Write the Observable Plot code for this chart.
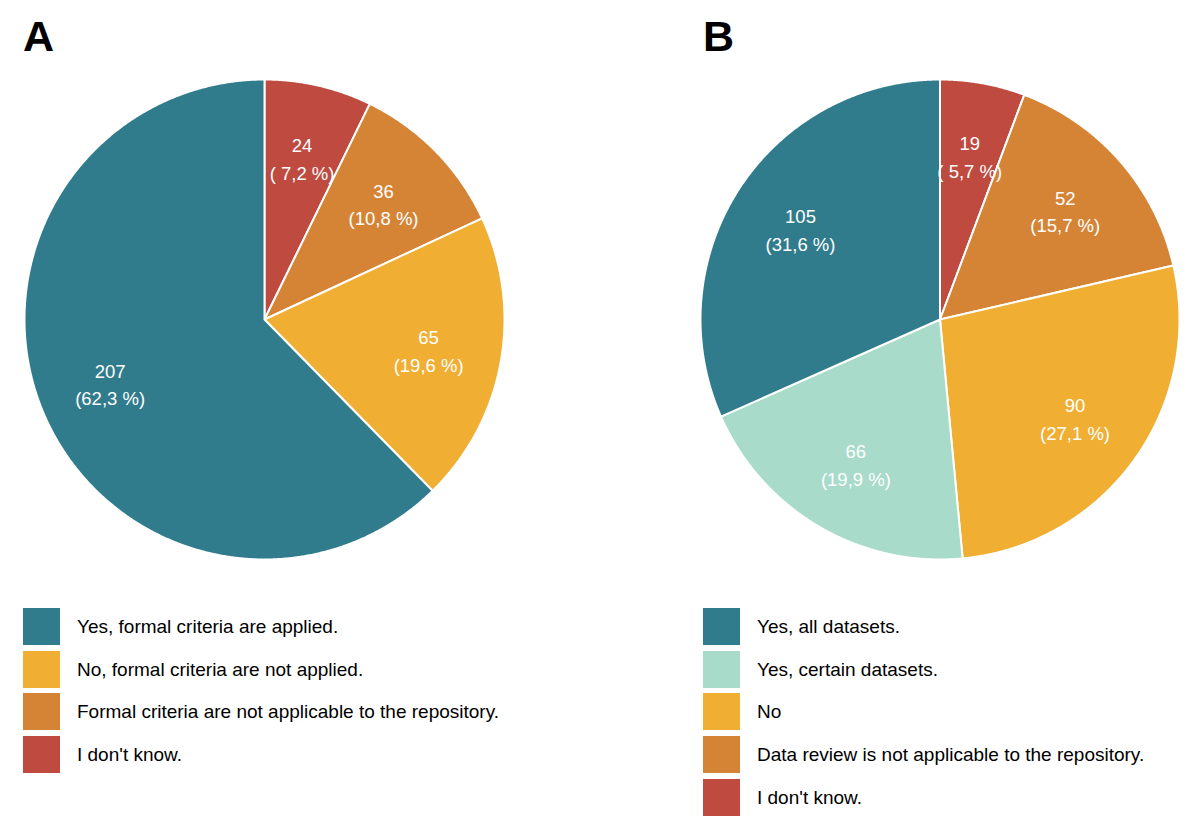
<!DOCTYPE html>
<html><head><meta charset="utf-8">
<script src="https://cdn.jsdelivr.net/npm/d3@7"></script>
<script src="https://cdn.jsdelivr.net/npm/@observablehq/plot@0.6"></script>
<style>
body{margin:0;background:#fff;font-family:"Liberation Sans",Arial,sans-serif;}
#root{position:relative;width:1200px;height:839px;overflow:hidden;background:#fff;}
.panel{position:absolute;top:0;width:600px;height:839px;}
.title{position:absolute;left:23px;top:15px;font-weight:bold;font-size:43px;line-height:1;color:#000;}
.plotwrap{position:absolute;left:0;top:0;}
.legend{position:absolute;left:23px;top:605px;}
.item{display:flex;align-items:center;height:42.7px;}
.swatch{width:37px;height:37px;margin-right:17px;box-sizing:border-box;}
.lab{font-size:19px;color:#000;line-height:1;}
</style>
</head><body>
<div id="root"></div>
<script>
// Panel A data (legend order)
const catsA = ["Yes, formal criteria are applied.", "No, formal criteria are not applied.", "Formal criteria are not applicable to the repository.", "I don't know."];
const valsA = [207, 65, 36, 24];
const colorsA = ["#317c8c", "#f0ae33", "#d58435", "#bf4a40"];

// Panel B data (legend order)
const catsB = ["Yes, all datasets.", "Yes, certain datasets.", "No", "Data review is not applicable to the repository.", "I don't know."];
const valsB = [105, 66, 90, 52, 19];
const colorsB = ["#317c8c", "#a8dbca", "#f0ae33", "#d58435", "#bf4a40"];

const titles = ["A", "B"];

function makePanel(title, cats, vals, colors, left, xr) {
  const panel = document.createElement("div");
  panel.className = "panel";
  panel.style.left = left + "px";
  // clockwise from 12 o'clock: reversed legend order
  const order = d3.range(cats.length).reverse();
  const total = d3.sum(vals);
  let acc = 0;
  const slices = order.map(i => {
    const a0 = acc / total * 2 * Math.PI;
    acc += vals[i];
    const a1 = acc / total * 2 * Math.PI;
    return {cat: cats[i], value: vals[i], a0, a1};
  });
  const pts = [];
  for (const s of slices) {
    pts.push({cat: s.cat, x: 0, y: 0});
    const n = Math.max(2, Math.ceil((s.a1 - s.a0) / 0.005));
    for (let k = 0; k <= n; k++) {
      const a = s.a0 + (s.a1 - s.a0) * k / n;
      pts.push({cat: s.cat, x: Math.sin(a), y: Math.cos(a)});
    }
    pts.push({cat: s.cat, x: 0, y: 0});
  }
  const labels = slices.map(s => {
    const m = (s.a0 + s.a1) / 2;
    const pct = (s.value / total * 100).toFixed(1).replace(".", ",").padStart(4, " ");
    return {x: 0.695 * Math.sin(m), y: 0.695 * Math.cos(m), text: `${s.value}\n(${pct} %)`};
  });
  const plot = Plot.plot({
    width: 600, height: 590,
    marginTop: 0, marginBottom: 0, marginLeft: 0, marginRight: 0,
    x: {domain: [-1, 1], range: xr, axis: null},
    y: {domain: [-1, 1], range: [559, 79], axis: null},
    color: {domain: cats, range: colors},
    style: {fontFamily: "Liberation Sans, Arial, sans-serif", background: "transparent", overflow: "visible"},
    marks: [
      Plot.line(pts, {x: "x", y: "y", z: "cat", fill: "cat", stroke: "white", strokeWidth: 2, strokeLinejoin: "round", curve: "linear"}),
      Plot.text(labels, {x: "x", y: "y", text: "text", fill: "white", fontSize: 18.5, lineHeight: 1.5})
    ]
  });
  const wrap = document.createElement("div");
  wrap.className = "plotwrap";
  wrap.appendChild(plot);
  panel.appendChild(wrap);
  const t = document.createElement("div");
  t.className = "title";
  t.textContent = title;
  panel.appendChild(t);
  const leg = document.createElement("div");
  leg.className = "legend";
  cats.forEach((c, i) => {
    const it = document.createElement("div");
    it.className = "item";
    const sw = document.createElement("div");
    sw.className = "swatch";
    sw.style.background = colors[i];
    const lb = document.createElement("div");
    lb.className = "lab";
    lb.textContent = c;
    it.appendChild(sw); it.appendChild(lb);
    leg.appendChild(it);
  });
  panel.appendChild(leg);
  document.getElementById("root").appendChild(panel);
}

makePanel(titles[0], catsA, valsA, colorsA, 0, [24, 504]);
makePanel(titles[1], catsB, valsB, colorsB, 680, [20, 499]);
</script>
</body></html>
